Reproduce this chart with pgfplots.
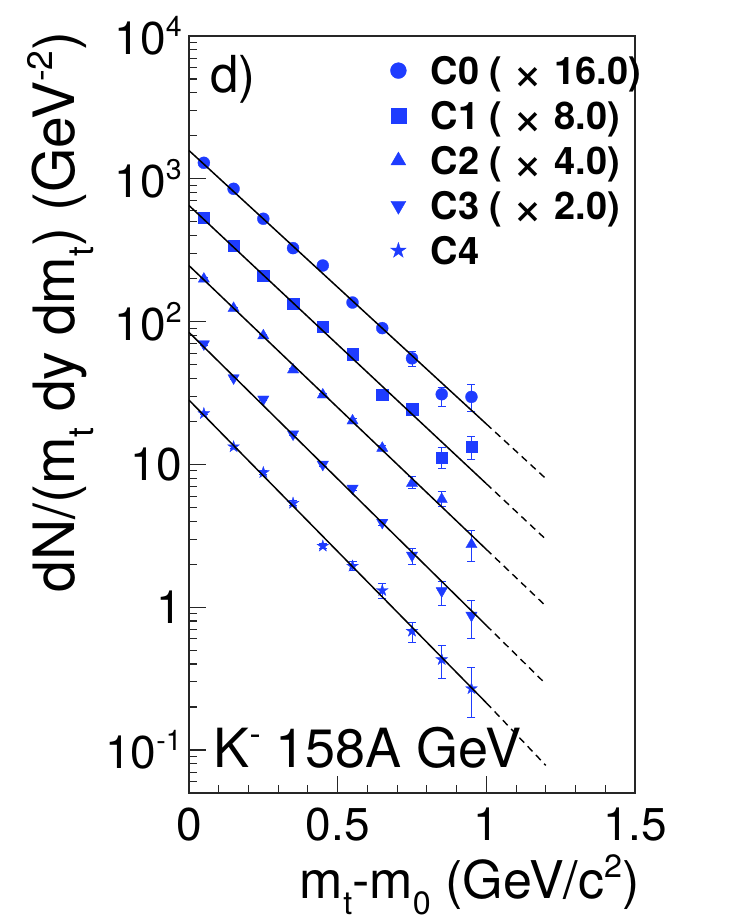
\documentclass[border=0pt]{standalone}
\usepackage{fontspec}
\setmainfont{TeX Gyre Heros}
\usepackage{graphicx}
\usepackage{pgfplots}
\pgfplotsset{compat=1.18}
\usepackage{pgfplotstable}

\definecolor{mblue}{RGB}{30,60,255}

% raised and lowered indices in the style of the axis titles
\newcommand{\up}[1]{\raisebox{0.39em}{\scalebox{0.62}{#1}}}
\newcommand{\dn}[1]{\raisebox{-0.32em}{\scalebox{0.62}{#1}}}
% light multiplication sign for the legend
\newcommand{\tms}{{\mdseries\raisebox{-0.16em}{\scalebox{1.4}{\symbol{"00D7}}}}}

% filled five-pointed star
\pgfdeclareplotmark{fstar}{%
  \pgfpathmoveto{\pgfpointpolar{90}{\pgfplotmarksize}}%
  \pgfpathlineto{\pgfpointpolar{126}{0.382\pgfplotmarksize}}%
  \pgfpathlineto{\pgfpointpolar{162}{\pgfplotmarksize}}%
  \pgfpathlineto{\pgfpointpolar{198}{0.382\pgfplotmarksize}}%
  \pgfpathlineto{\pgfpointpolar{234}{\pgfplotmarksize}}%
  \pgfpathlineto{\pgfpointpolar{270}{0.382\pgfplotmarksize}}%
  \pgfpathlineto{\pgfpointpolar{306}{\pgfplotmarksize}}%
  \pgfpathlineto{\pgfpointpolar{342}{0.382\pgfplotmarksize}}%
  \pgfpathlineto{\pgfpointpolar{18}{\pgfplotmarksize}}%
  \pgfpathlineto{\pgfpointpolar{54}{0.382\pgfplotmarksize}}%
  \pgfpathclose
  \pgfusepathqfillstroke}

% spectra (scaled), columns: mt-m0, value, error up, error down
\pgfplotstableread{
x    y     ep    em
0.05 1294  20    20
0.15 851   14    14
0.25 525   10    10
0.35 327   7     7
0.45 247   6     6
0.55 136   4     4
0.65 90    3     3
0.75 55.3  6.2   6.8
0.85 31.0  3.7   5.7
0.95 29.7  6.8   6.4
}\czero
\pgfplotstableread{
x    y     ep    em
0.05 533   8     8
0.15 340   6     6
0.25 210   4     4
0.35 134   3     3
0.45 92    2     2
0.55 59.3  1.5   1.5
0.65 30.7  1.2   1.2
0.75 24.4  1.2   1.2
0.85 11.2  1.9   1.85
0.95 13.3  2.5   2.5
}\cone
\pgfplotstableread{
x    y     ep    em
0.05 199   3     3
0.15 124   2     2
0.25 79.7  1.5   1.5
0.35 46    1     1
0.45 30.7  0.8   0.8
0.55 20.2  0.6   0.6
0.65 13.0  0.5   0.5
0.75 7.38  0.8   0.6
0.85 5.7   0.76  0.6
0.95 2.75  0.67  0.65
}\ctwo
\pgfplotstableread{
x    y     ep    em
0.05 69.7  1.2   1.2
0.15 40.3  0.8   0.8
0.25 28.6  0.6   0.6
0.35 16.3  0.4   0.4
0.45 10.0  0.3   0.3
0.55 6.8   0.25  0.25
0.65 3.92  0.2   0.2
0.75 2.31  0.26  0.31
0.85 1.30  0.22  0.28
0.95 0.877 0.24  0.27
}\cthree
\pgfplotstableread{
x    y     ep    em
0.05 22.7  0.5   0.5
0.15 13.3  0.35  0.35
0.25 8.77  0.25  0.25
0.35 5.35  0.2   0.2
0.45 2.68  0.12  0.12
0.55 1.94  0.14  0.14
0.65 1.31  0.15  0.15
0.75 0.68  0.107 0.116
0.85 0.43  0.11  0.114
0.95 0.269 0.108 0.101
}\cfour

\pgfplotsset{
  dat/.style={only marks, color=mblue,
    mark options={solid, fill=mblue, draw=mblue, line width=0.3pt}},
  errs/.style={error bars/.cd, y dir=both, y explicit,
    error bar style={draw=mblue, line width=1pt, solid},
    error mark=-,
    error mark options={draw=mblue, mark size=4pt, line width=1pt, rotate=90}},
  fit/.style={black, line width=1.5pt, no marks},
  ext/.style={black, line width=1.4pt, no marks, dash pattern=on 7pt off 5pt},
}

\begin{document}
\begin{tikzpicture}
\begin{axis}[
  name=ax,
  scale only axis, width=446pt, height=757pt,
  xmin=0, xmax=1.5, ymode=log, ymin=0.05, ymax=10000,
  clip mode=individual,
  axis line style={line width=1.2pt, black!85},
  xtick={0,0.5,1,1.5}, xticklabels={0,0.5,1,1.5},
  minor xtick={0.1,0.2,0.3,0.4,0.6,0.7,0.8,0.9,1.1,1.2,1.3,1.4},
  ytick={0.1,1,10,100,1000,10000},
  yticklabels={10\up{-1},1,10,10\up{2},10\up{3},10\up{4}},
  minor ytick={0.05,0.06,0.07,0.08,0.09,0.2,0.3,0.4,0.5,0.6,0.7,0.8,0.9,2,3,4,5,6,7,8,9,20,30,40,50,60,70,80,90,200,300,400,500,600,700,800,900,2000,3000,4000,5000,6000,7000,8000,9000},
  xtick pos=bottom, ytick pos=left, tick align=inside,
  major tick length=17pt, minor tick length=8.5pt,
  tick style={line width=1.1pt, black!85},
  tick label style={font=\fontsize{46}{52}\selectfont, inner sep=0pt},
  xticklabel style={yshift=-15pt},
  yticklabel style={xshift=-7pt},
  /pgf/number format/assume math mode=true,
  legend image code/.code={%
    \draw[#1, only marks, every mark/.append style={scale=1.33}] plot coordinates {(0pt,4pt)};
    \path (-10pt,0pt) (10pt,0pt);},
  legend style={at={(0.4462,0.9727)}, anchor=north west, draw=none, fill=none,
    inner sep=0pt, row sep=9.5pt, column sep=22pt,
    font=\fontsize{38}{44}\selectfont\bfseries,
    nodes={inner sep=0pt, text height=27.5pt, text depth=8pt}},
  legend cell align=left,
]
\addplot[dat, mark=*, mark size=6pt, errs] table[x=x, y=y, y error plus=ep, y error minus=em] {\czero};
\addlegendentry{C0 ( \tms\ 16.0)}
\addplot[dat, mark=square*, mark size=5.7pt, errs] table[x=x, y=y, y error plus=ep, y error minus=em] {\cone};
\addlegendentry{C1 ( \tms\ 8.0)}
\addplot[dat, mark=triangle*, mark size=6.5pt, errs] table[x=x, y=y, y error plus=ep, y error minus=em] {\ctwo};
\addlegendentry{C2 ( \tms\ 4.0)}
\addplot[dat, mark=triangle*, mark size=6.5pt, mark options={rotate=180}, errs] table[x=x, y=y, y error plus=ep, y error minus=em] {\cthree};
\addlegendentry{C3 ( \tms\ 2.0)}
\addplot[dat, mark=fstar, mark size=6.2pt, errs] table[x=x, y=y, y error plus=ep, y error minus=em] {\cfour};
\addlegendentry{C4}

% exponential fits, extrapolated beyond the fit range
\addplot[fit, forget plot] coordinates {(0,1578) (1.0,19.2)};
\addplot[ext, forget plot] coordinates {(1.0,19.2) (1.2,7.96)};
\addplot[fit, forget plot] coordinates {(0,650) (1.0,7.33)};
\addplot[ext, forget plot] coordinates {(1.0,7.33) (1.2,2.99)};
\addplot[fit, forget plot] coordinates {(0,246.6) (1.0,2.54)};
\addplot[ext, forget plot] coordinates {(1.0,2.54) (1.2,1.02)};
\addplot[fit, forget plot] coordinates {(0,84.1) (1.0,0.746)};
\addplot[ext, forget plot] coordinates {(1.0,0.746) (1.2,0.29)};
\addplot[fit, forget plot] coordinates {(0,28.2) (1.0,0.214)};
\addplot[ext, forget plot] coordinates {(1.0,0.214) (1.2,0.078)};

\node[anchor=base west, font=\fontsize{51}{56}\selectfont] at ([shift={(18pt,-57pt)}]rel axis cs:0,1) {d)};
\node[anchor=base west, font=\fontsize{54}{60}\selectfont] at ([shift={(21pt,26pt)}]rel axis cs:0,0) {K\up{-} 158A GeV};
\node[anchor=base east, rotate=90, font=\fontsize{57}{62}\selectfont] at ([shift={(-114pt,8pt)}]rel axis cs:0,1)
  {dN/(m\dn{t} dy dm\dn{t}) (GeV\up{-2})};
\node[anchor=base east, font=\fontsize{52}{58}\selectfont] at ([shift={(8pt,-105pt)}]rel axis cs:1,0)
  {m\dn{t}-m\dn{0} (GeV/c\up{2})};
\end{axis}
\pgfresetboundingbox
\path[use as bounding box] ([shift={(-189pt,-130pt)}]ax.south west) rectangle ([shift={(553pt,793pt)}]ax.south west);
\end{tikzpicture}
\end{document}
